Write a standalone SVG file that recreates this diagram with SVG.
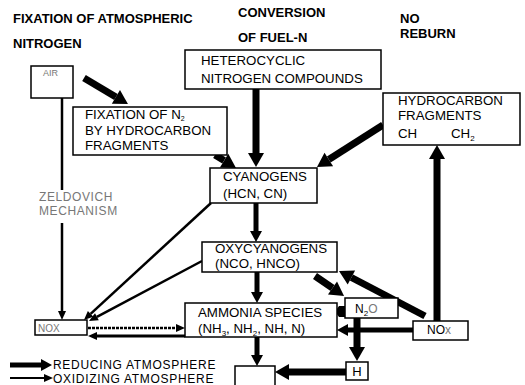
<svg xmlns="http://www.w3.org/2000/svg" width="525" height="385" viewBox="0 0 525 385">
<style>
text{font-family:"Liberation Sans",Arial,sans-serif;fill:#000}
.t{font-size:13px;font-weight:bold}
.b{font-size:13.3px}
.pale{fill:#777}
.box{fill:#fff;stroke:#000;stroke-width:1.5}
.thick{stroke:#000;stroke-width:7;fill:none}
.med{stroke:#000;stroke-width:5;fill:none}
.thin{stroke:#000;stroke-width:2.5;fill:none}
</style>
<defs>
<marker id="hT" markerUnits="userSpaceOnUse" markerWidth="14" markerHeight="16" viewBox="0 -8 14 16" refX="0" refY="0" orient="auto" overflow="visible"><path d="M0,-8 L14,0 L0,8 z" fill="#000"/></marker>
<marker id="hM" markerUnits="userSpaceOnUse" markerWidth="11" markerHeight="12" viewBox="0 -6 11 12" refX="0" refY="0" orient="auto" overflow="visible"><path d="M0,-6 L11,0 L0,6 z" fill="#000"/></marker>
<marker id="hS" markerUnits="userSpaceOnUse" markerWidth="9" markerHeight="8" viewBox="0 -4 9 8" refX="0" refY="0" orient="auto" overflow="visible"><path d="M0,-4 L9,0 L0,4 z" fill="#000"/></marker>
</defs>

<g id="titles">
<text class="t" x="13" y="23">FIXATION OF ATMOSPHERIC</text>
<text class="t" x="13" y="48">NITROGEN</text>
<text class="t" x="238" y="17">CONVERSION</text>
<text class="t" x="238" y="42">OF FUEL-N</text>
<text class="t" x="400" y="23">NO</text>
<text class="t" x="400" y="38">REBURN</text>
</g>

<g id="connectors">
<path class="thick" d="M84,78 L115.9,96.9" marker-end="url(#hT)"/>
<path class="thick" d="M256,89 L256,153" marker-end="url(#hT)"/>
<path class="thick" d="M215,155 L224.1,160.6" marker-end="url(#hT)"/>
<path class="thick" d="M383,125 L328.8,159.5" marker-end="url(#hT)"/>
<path class="med" d="M256,203 L256,231" marker-end="url(#hM)"/>
<path class="med" d="M257,272 L257,292" marker-end="url(#hM)"/>
<path class="med" d="M257,337 L257,355" marker-end="url(#hM)"/>
<path class="thick" d="M315,276 L332.5,288" marker-end="url(#hT)"/>
<path class="thick" d="M425,316 L351.4,277.5" marker-end="url(#hT)"/>
<path class="thick" d="M437,321 L437,159" marker-end="url(#hT)"/>
<path class="med" d="M413,330 L348,330" marker-end="url(#hM)"/>
<path class="thick" d="M357,318 L357,347" marker-end="url(#hT)"/>
<path class="thick" d="M346,372 L289,372" marker-end="url(#hT)"/>
<polygon points="345,306 339,306 335,311.5 339,317 345,317" fill="#000"/>
<path class="thin" d="M62,98 L62,190"/>
<path class="thin" d="M62,223 L62,311" marker-end="url(#hS)"/>
<path class="thin" d="M211,203 L90.6,313.9" marker-end="url(#hS)"/>
<path class="thin" d="M202,261 L96.9,316.8" marker-end="url(#hS)"/>
<path class="thin" d="M88,328 L176,328" marker-end="url(#hS)" stroke-dasharray="3,1"/>
<path stroke="#000" stroke-width="3" fill="none" d="M185,336 L97,336" marker-end="url(#hS)"/>
</g>

<g id="air">
<rect class="box" x="31" y="66" width="42" height="32"/>
<text x="43" y="76" font-size="9" class="pale">AIR</text>
</g>

<g id="heterocyclic">
<rect class="box" x="185" y="50" width="196" height="39"/>
<text class="b" x="201" y="65">HETEROCYCLIC</text>
<text class="b" x="201" y="83">NITROGEN COMPOUNDS</text>
</g>

<g id="fixation">
<rect class="box" x="73" y="107" width="154" height="48"/>
<text class="b" x="85" y="119">FIXATION OF N<tspan font-size="7" dy="2">2</tspan></text>
<text class="b" x="85" y="135">BY HYDROCARBON</text>
<text class="b" x="85" y="150">FRAGMENTS</text>
</g>

<g id="hydrocarbon">
<rect class="box" x="383" y="93" width="137" height="52"/>
<text class="b" x="398" y="105" fill="#333">HYDROCARBON</text>
<text class="b" x="398" y="120" fill="#333">FRAGMENTS</text>
<text class="b" x="398" y="138" fill="#333">CH</text>
<text class="b" x="451" y="138" fill="#333">CH<tspan font-size="8" dy="3">2</tspan></text>
</g>

<g id="cyanogens">
<rect class="box" x="210" y="168" width="107" height="35"/>
<text class="b" x="223" y="181">CYANOGENS</text>
<text class="b" x="223" y="198">(HCN, CN)</text>
</g>

<g id="oxycyanogens">
<rect class="box" x="202" y="242" width="135" height="30"/>
<text class="b" x="215" y="253">OXYCYANOGENS</text>
<text class="b" x="215" y="268">(NCO, HNCO)</text>
</g>

<g id="ammonia">
<rect class="box" x="185" y="303" width="152" height="34"/>
<text class="b" x="198" y="317">AMMONIA SPECIES</text>
<text class="b" x="198" y="333">(NH<tspan font-size="8" dy="3">3</tspan><tspan dy="-3">, NH</tspan><tspan font-size="8" dy="3">2</tspan><tspan dy="-3">, NH, N)</tspan></text>
</g>

<g id="n2o">
<rect class="box" x="345" y="298" width="53" height="20"/>
<text x="355" y="313" font-size="12">N<tspan font-size="8" dy="3">2</tspan><tspan dy="-3" class="pale">O</tspan></text>
</g>

<g id="nox-right">
<rect class="box" x="413" y="321" width="55" height="19"/>
<text x="427" y="334" font-size="12">NO<tspan class="pale">x</tspan></text>
</g>

<g id="nox-left">
<rect class="box" x="35" y="320" width="52" height="15"/>
<text x="38" y="332" font-size="10" class="pale">NOX</text>
</g>

<g id="h">
<rect class="box" x="346" y="362" width="22" height="18"/>
<text x="357" y="376" font-size="13" text-anchor="middle">H</text>
</g>

<g id="sink">
<path class="box" d="M235,392 V366 H275 V392"/>
</g>

<g id="zeldovich">
<text x="39" y="201" font-size="12" letter-spacing="0.6" class="pale">ZELDOVICH</text>
<text x="39" y="215" font-size="12" letter-spacing="0.6" class="pale">MECHANISM</text>
</g>

<g id="legend">
<path class="med" d="M10,365 L41,365" marker-end="url(#hM)"/>
<path stroke="#000" stroke-width="2" d="M10,378 L44,378" marker-end="url(#hS)"/>
<text x="53" y="369" font-size="12" letter-spacing="0.7" fill="#333">REDUCING ATMOSPHERE</text>
<text x="53" y="383" font-size="12" letter-spacing="0.7">OXIDIZING ATMOSPHERE</text>
</g>
</svg>
